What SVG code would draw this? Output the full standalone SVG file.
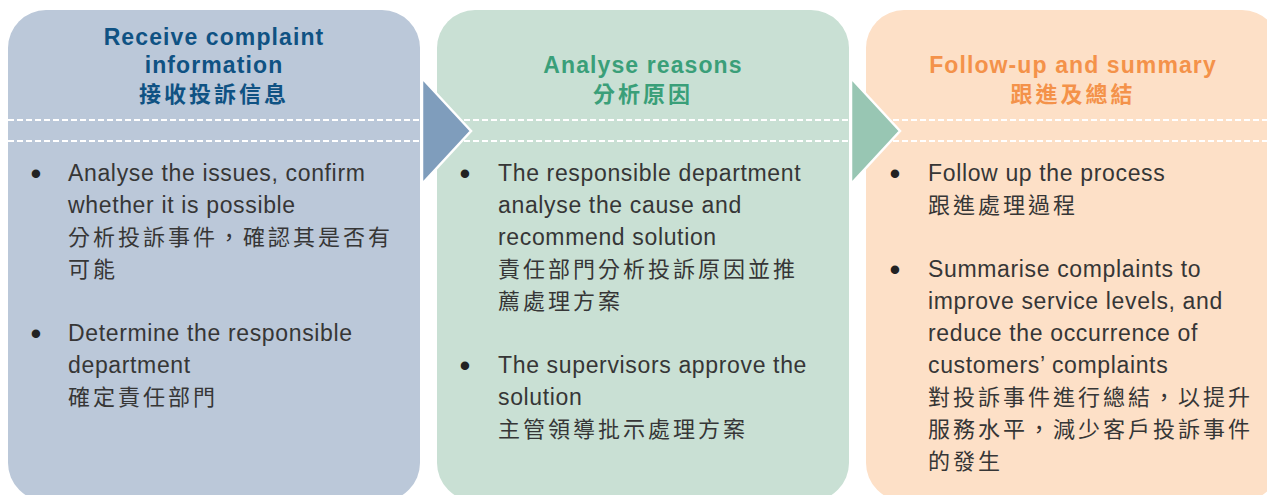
<svg xmlns="http://www.w3.org/2000/svg" width="1267" height="495" viewBox="0 0 1267 495">
<style>
  .hd { font-family: "Liberation Sans", "Noto Sans CJK TC", sans-serif; font-weight: 700; font-size: 23px; letter-spacing: 1.1px; text-anchor: middle; }
  .hdc { font-family: "Noto Sans CJK TC", sans-serif; font-weight: 700; font-size: 22px; letter-spacing: 3px; text-anchor: middle; }
  .c1 { fill: #0f5283; }
  .c2 { fill: #3a9f79; }
  .c3 { fill: #f4924a; }
  .en { font-family: "Liberation Sans", "Noto Sans CJK TC", sans-serif; font-size: 23px; letter-spacing: 0.65px; fill: #363636; }
  .zh { font-family: "Noto Sans CJK TC", sans-serif; font-size: 22px; letter-spacing: 3px; fill: #363636; }
  .bl { font-family: "Liberation Sans", sans-serif; font-size: 31px; fill: #222; text-anchor: middle; }
  .dash { stroke: #ffffff; stroke-width: 2; stroke-dasharray: 6 3; fill: none; }
  .arrow { stroke: #ffffff; stroke-width: 2.5; stroke-linejoin: miter; }
</style>

<g id="node-receive">
  <rect x="8" y="10" width="412" height="491" rx="38" ry="38" fill="#bbc8d9"/>
  <line class="dash" x1="8" y1="120" x2="420" y2="120"/>
  <line class="dash" x1="8" y1="141" x2="420" y2="141"/>
  <text class="hd c1" x="214" y="45">Receive complaint</text>
  <text class="hd c1" x="214" y="73">information</text>
  <text class="hdc c1" x="214" y="102">接收投訴信息</text>
  <text class="bl" x="36" y="184">•</text>
  <text class="en" x="68" y="181">Analyse the issues, confirm</text>
  <text class="en" x="68" y="213">whether it is possible</text>
  <text class="zh" x="68" y="245">分析投訴事件，確認其是否有</text>
  <text class="zh" x="68" y="277">可能</text>
  <text class="bl" x="36" y="344">•</text>
  <text class="en" x="68" y="341">Determine the responsible</text>
  <text class="en" x="68" y="373">department</text>
  <text class="zh" x="68" y="405">確定責任部門</text>
</g>

<g id="node-analyse">
  <rect x="437" y="10" width="412" height="491" rx="38" ry="38" fill="#c9e0d4"/>
  <line class="dash" x1="437" y1="120" x2="849" y2="120"/>
  <line class="dash" x1="437" y1="141" x2="849" y2="141"/>
  <text class="hd c2" x="643" y="73">Analyse reasons</text>
  <text class="hdc c2" x="643" y="102">分析原因</text>
  <text class="bl" x="465" y="184">•</text>
  <text class="en" x="498" y="181">The responsible department</text>
  <text class="en" x="498" y="213">analyse the cause and</text>
  <text class="en" x="498" y="245">recommend solution</text>
  <text class="zh" x="498" y="277">責任部門分析投訴原因並推</text>
  <text class="zh" x="498" y="309">薦處理方案</text>
  <text class="bl" x="465" y="376">•</text>
  <text class="en" x="498" y="373">The supervisors approve the</text>
  <text class="en" x="498" y="405">solution</text>
  <text class="zh" x="498" y="437">主管領導批示處理方案</text>
</g>

<g id="node-followup">
  <rect x="866" y="10" width="414" height="491" rx="38" ry="38" fill="#fde0c7"/>
  <line class="dash" x1="866" y1="120" x2="1267" y2="120"/>
  <line class="dash" x1="866" y1="141" x2="1267" y2="141"/>
  <text class="hd c3" x="1073" y="73">Follow-up and summary</text>
  <text class="hdc c3" x="1073" y="102">跟進及總結</text>
  <text class="bl" x="895" y="184">•</text>
  <text class="en" x="928" y="181">Follow up the process</text>
  <text class="zh" x="928" y="213">跟進處理過程</text>
  <text class="bl" x="895" y="280">•</text>
  <text class="en" x="928" y="277">Summarise complaints to</text>
  <text class="en" x="928" y="309">improve service levels, and</text>
  <text class="en" x="928" y="341">reduce the occurrence of</text>
  <text class="en" x="928" y="373">customers’ complaints</text>
  <text class="zh" x="928" y="405">對投訴事件進行總結，以提升</text>
  <text class="zh" x="928" y="437">服務水平，減少客戶投訴事件</text>
  <text class="zh" x="928" y="469">的發生</text>
</g>

<g id="connectors">
  <polygon class="arrow" points="422,78 471,131 422,184" fill="#7f9dbc"/>
  <polygon class="arrow" points="851,78 900,131 851,184" fill="#98c6b3"/>
</g>
</svg>
